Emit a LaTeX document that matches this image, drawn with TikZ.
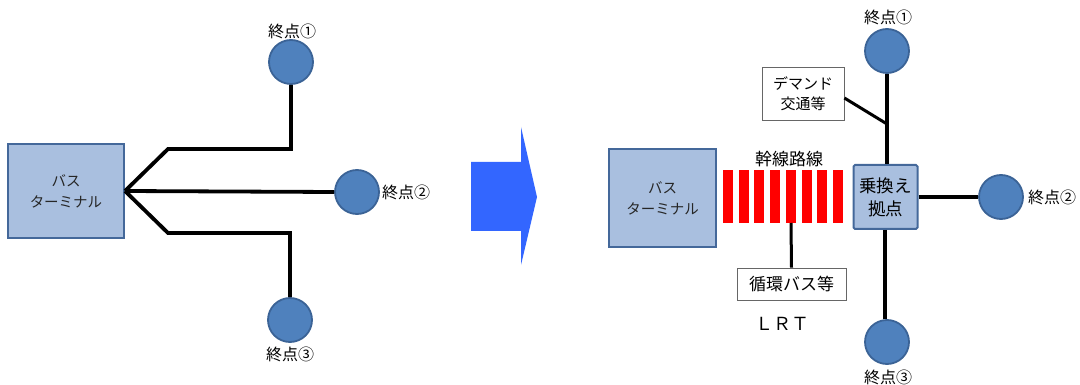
\documentclass[tikz,border=0pt]{standalone}
\usepackage{fontspec}
\newfontfamily\jp{Noto Sans CJK JP}
\definecolor{stopfill}{HTML}{4F81BD}
\definecolor{stopline}{HTML}{3B6396}
\definecolor{boxfill}{HTML}{A9BFDF}
\definecolor{boxline}{HTML}{44689A}
\definecolor{arrowblue}{HTML}{3366FF}
\definecolor{barred}{HTML}{FF0000}
\tikzset{
  px/.style={x=1pt,y=-1pt},
  stop/.style={circle,fill=stopfill,draw=stopline,line width=1.8pt,minimum size=44pt,inner sep=0pt},
  terminal/.style={rectangle,fill=boxfill,draw=boxline,line width=2pt,inner sep=0pt,align=center,
    font=\jp\fontsize{14.5}{21}\selectfont,text=black!85},
  hub/.style={rectangle,rounded corners=1.5pt,fill=boxfill,draw=boxline,line width=2pt,inner sep=0pt,align=center,
    font=\jp\fontsize{17.5}{23}\selectfont},
  tag/.style={rectangle,fill=white,draw=black!60,line width=0.8pt,inner sep=0pt,align=center,
    font=\jp\fontsize{15}{20}\selectfont},
  lbl/.style={font=\jp\fontsize{16}{18}\selectfont,inner sep=0pt},
  route/.style={line width=3.8pt,black,line join=miter},
  bar/.style={fill=barred,draw=none}
}
\begin{document}
\begin{tikzpicture}[px]
\useasboundingbox (0,0) rectangle (1080,385);

% ---------- current network: terminal with three direct branches ----------
\node[terminal,minimum width=116pt,minimum height=94pt] (t1) at (66,191) {バス\\ターミナル};
\coordinate (j1) at (125,191);
\node[stop] (a1) at (291,62) {};
\node[stop] (a2) at (357,192) {};
\node[stop] (a3) at (290,320) {};
\node[lbl] (la1) at (292,31) {終点①};
\node[lbl,anchor=west] (la2) at (382,192) {終点②};
\node[lbl] (la3) at (290,354) {終点③};
\coordinate (u1) at (168,149);
\coordinate (u2) at (291,149);
\coordinate (d1) at (168,233);
\coordinate (d2) at (290,233);
\draw[route] (j1) -- (u1) -- (u2) -- (a1.south);
\draw[route] (j1) -- (a2.west);
\draw[route] (j1) -- (d1) -- (d2) -- (a3.north);

% ---------- transition arrow ----------
\fill[arrowblue] (471,162) -- (521,162) -- (521,127) -- (537,197) -- (521,265)
  -- (521,231) -- (471,231) -- cycle;

% ---------- planned network: trunk line to a transfer hub ----------
\node[terminal,minimum width=107pt,minimum height=98pt] (t2) at (662.5,198) {バス\\ターミナル};
\foreach \i in {0,...,7}{
  \fill[bar] ({723+\i*15.7},170) rectangle ++(10,53);
}
\coordinate (trunk) at (791,223);
\node[lbl,font=\jp\fontsize{17}{19}\selectfont] (trunkl) at (789,159) {幹線路線};
\node[tag,minimum width=109pt,minimum height=32pt,font=\jp\fontsize{17}{19}\selectfont] (loop) at (791.5,284) {循環バス等};
\draw[route,line width=3pt] (trunk) -- (loop.north);
\node[font=\jp\fontsize{18}{20}\selectfont] (lrt) at (782,324) {ＬＲＴ};

\node[hub,minimum width=64pt,minimum height=64pt] (hub) at (885.5,197) {乗換え\\拠点};
\node[stop] (b1) at (887,51) {};
\node[stop] (b2) at (1001,197) {};
\node[stop] (b3) at (887,342) {};
\node[lbl] (lb1) at (888,17) {終点①};
\node[lbl,anchor=west] (lb2) at (1028,197) {終点②};
\node[lbl] (lb3) at (888,377) {終点③};
\draw[route] (b1.south) -- (hub.north -| b1.south);
\draw[route] (hub.east) -- (b2.west);
\draw[route] (hub.south -| 885,0) -- (b3.north -| 885,0);

\node[tag,minimum width=82pt,minimum height=53pt] (dem) at (803,93.5) {デマンド\\交通等};
\coordinate (dj) at (887,124);
\draw[route,line width=3pt] (dem.east |- 0,98) -- (dj);
\end{tikzpicture}
\end{document}
